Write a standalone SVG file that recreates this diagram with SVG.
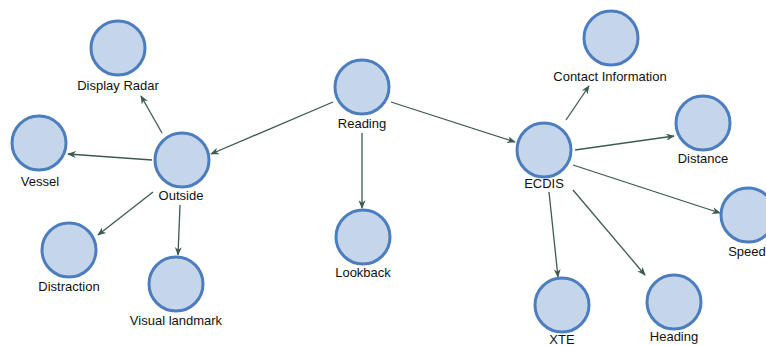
<svg xmlns="http://www.w3.org/2000/svg" width="766" height="346" viewBox="0 0 766 346">
<defs>
<style>
.n{fill:#c6d6ea;stroke:#4b7dbf;stroke-width:3}
.t{font-family:"Liberation Sans",Arial,sans-serif;font-size:13px;fill:#111;text-anchor:middle}
.e{stroke:#3d5a52;stroke-width:1.3;fill:none;marker-end:url(#ah)}
</style>
<marker id="ah" viewBox="0 0 10 8" refX="9" refY="4" markerWidth="9" markerHeight="7" markerUnits="userSpaceOnUse" orient="auto">
<path d="M0,0 L10,4 L0,8 L3,4 z" fill="#3d5a52"/>
</marker>
</defs>
<rect width="766" height="346" fill="#fff"/>
<g id="connectors">
<line class="e" x1="333" y1="102" x2="211" y2="154"/>
<line class="e" x1="391" y1="102" x2="515" y2="142"/>
<line class="e" x1="362" y1="133" x2="362" y2="208"/>
<line class="e" x1="162" y1="133" x2="141" y2="96"/>
<line class="e" x1="152" y1="160" x2="68" y2="154"/>
<line class="e" x1="153" y1="192" x2="98" y2="235"/>
<line class="e" x1="180" y1="205" x2="178" y2="255"/>
<line class="e" x1="566" y1="120" x2="589" y2="86"/>
<line class="e" x1="575" y1="150" x2="674" y2="136"/>
<line class="e" x1="573" y1="165" x2="720" y2="213"/>
<line class="e" x1="549" y1="192" x2="558" y2="277"/>
<line class="e" x1="573" y1="190" x2="645" y2="275"/>
</g>
<g id="display-radar"><circle class="n" cx="118" cy="48" r="27"/><text class="t" x="118" y="90">Display Radar</text></g>
<g id="vessel"><circle class="n" cx="39" cy="143" r="27"/><text class="t" x="40" y="186">Vessel</text></g>
<g id="outside"><circle class="n" cx="182" cy="160" r="27"/><text class="t" x="181" y="200">Outside</text></g>
<g id="distraction"><circle class="n" cx="69" cy="250" r="27"/><text class="t" x="69" y="291">Distraction</text></g>
<g id="visual-landmark"><circle class="n" cx="176" cy="284" r="27"/><text class="t" x="176" y="325">Visual landmark</text></g>
<g id="reading"><circle class="n" cx="362" cy="87" r="27"/><text class="t" x="362" y="128">Reading</text></g>
<g id="lookback"><circle class="n" cx="363" cy="237" r="27"/><text class="t" x="363" y="277">Lookback</text></g>
<g id="contact-information"><circle class="n" cx="611" cy="38" r="27"/><text class="t" x="610" y="81">Contact Information</text></g>
<g id="distance"><circle class="n" cx="703" cy="123" r="27"/><text class="t" x="703" y="163">Distance</text></g>
<g id="ecdis"><circle class="n" cx="544" cy="150" r="27"/><text class="t" x="544" y="188">ECDIS</text></g>
<g id="speed"><circle class="n" cx="748" cy="215" r="27"/><text class="t" x="747" y="256">Speed</text></g>
<g id="xte"><circle class="n" cx="562" cy="305" r="27"/><text class="t" x="562" y="344">XTE</text></g>
<g id="heading"><circle class="n" cx="674" cy="302" r="27"/><text class="t" x="674" y="341">Heading</text></g>
</svg>
